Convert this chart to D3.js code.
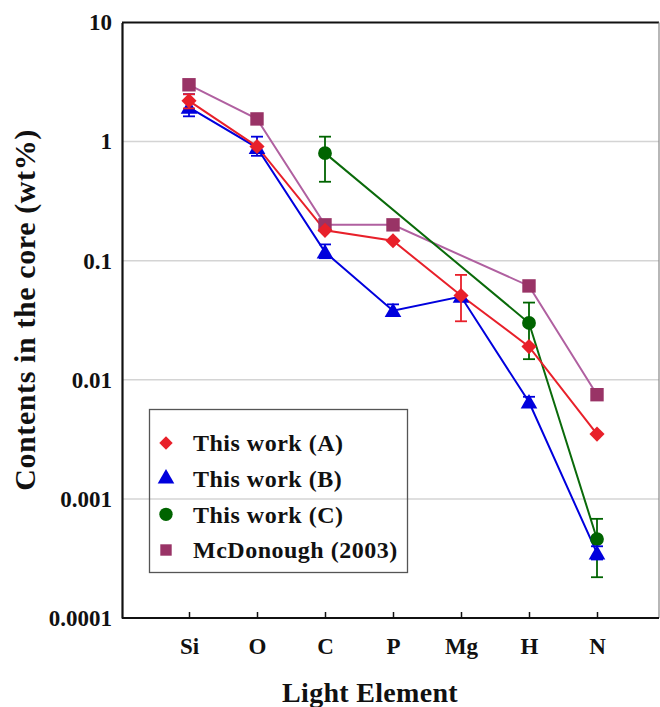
<!DOCTYPE html>
<html>
<head>
<meta charset="utf-8">
<script src="https://cdn.jsdelivr.net/npm/d3@7"></script>
<style>
  body { margin: 0; background: #fff; }
  text { font-family: "Liberation Serif", "Times New Roman", serif; font-weight: bold; fill: #111; }
</style>
</head>
<body>
<script>
// chart size
var w = 660;
var h = 707;
var plotLeft = 122, plotRight = 659, plotTop = 22.5, plotBottom = 618;

// categories and tick labels
var elements = ["Si", "O", "C", "P", "Mg", "H", "N"];
var yTicks = [0.0001, 0.001, 0.01, 0.1, 1, 10];
var yTickLabels = ["0.0001", "0.001", "0.01", "0.1", "1", "10"];

// series values (wt%), null = no point
var workA = [2.2, 0.91, 0.18, 0.147, 0.051, 0.019, 0.0035];
var workB = [1.94, 0.89, 0.118, 0.038, 0.05, 0.0065, 0.00035];
var workC = [null, null, 0.80, null, null, 0.030, 0.00046];
var mcdonough = [3.0, 1.55, 0.2, 0.2, null, 0.0614, 0.0075];

// error bar limits [low, high], null = none
var workAErr = [[1.9, 2.5], null, null, null, [0.031, 0.076], null, null];
var workBErr = [[1.63, 2.5], [0.76, 1.1], [0.105, 0.137], [0.035, 0.043], null, [0.006, 0.0072], [0.00031, 0.0004]];
var workCErr = [null, null, [0.46, 1.1], null, null, [0.0149, 0.0445], [0.00022, 0.00068]];

var seriesNames = ["This work (A)", "This work (B)", "This work (C)", "McDonough (2003)"];

// diamond = square turned 45 degrees
var series = [
  {name: seriesNames[3], values: mcdonough, err: null, color: "#993366", line: "#b060a0", symbol: d3.symbolSquare, size: 180, rot: 0},
  {name: seriesNames[2], values: workC, err: workCErr, color: "#006400", line: "#0a6a0a", symbol: d3.symbolCircle, size: 150, rot: 0},
  {name: seriesNames[1], values: workB, err: workBErr, color: "#0000dd", line: "#0000dd", symbol: d3.symbolTriangle, size: 120, rot: 0},
  {name: seriesNames[0], values: workA, err: workAErr, color: "#e8202a", line: "#e8202a", symbol: d3.symbolSquare, size: 115, rot: 45}
];

var xScale = d3.scalePoint().domain(elements).range([189, 597]);
var yScale = d3.scaleLog().domain([0.0001, 10]).range([plotBottom, plotTop]);

var svg = d3.select("body").append("svg")
  .attr("width", w)
  .attr("height", h);

// gridlines
svg.append("g").selectAll("line")
  .data(yTicks.slice(1, -1))
  .enter().append("line")
  .attr("x1", plotLeft).attr("x2", plotRight)
  .attr("y1", function(d) { return yScale(d); })
  .attr("y2", function(d) { return yScale(d); })
  .attr("stroke", "#d4d4d4")
  .attr("stroke-width", 1.5);

// frame
svg.append("line").attr("x1", plotLeft).attr("x2", plotRight).attr("y1", plotTop).attr("y2", plotTop)
  .attr("stroke", "#111").attr("stroke-width", 2.2);
svg.append("line").attr("x1", plotRight).attr("x2", plotRight).attr("y1", plotTop).attr("y2", plotBottom)
  .attr("stroke", "#888").attr("stroke-width", 1.2);

// y axis
var yAxis = d3.axisLeft(yScale)
  .tickValues(yTicks)
  .tickFormat(function(d, i) { return yTickLabels[i]; })
  .tickSize(0)
  .tickPadding(10);
var gy = svg.append("g").attr("transform", "translate(" + plotLeft + ",0)").call(yAxis);
gy.select(".domain").attr("stroke", "#111").attr("stroke-width", 2.2);
gy.selectAll("text").style("font-size", "23px").attr("font-family", null);

// x axis, ticks point inward
var xAxis = d3.axisBottom(xScale).tickSize(-6).tickPadding(20);
var gx = svg.append("g").attr("transform", "translate(0," + plotBottom + ")").call(xAxis);
gx.select(".domain").attr("d", "M" + plotLeft + ",0H" + plotRight).attr("stroke", "#111").attr("stroke-width", 2.2);
gx.selectAll(".tick line").attr("stroke", "#111").attr("stroke-width", 1.5);
gx.selectAll("text").style("font-size", "23px").attr("font-family", null);

// axis titles
svg.append("text")
  .attr("x", 370).attr("y", 702)
  .attr("text-anchor", "middle")
  .style("font-size", "28px")
  .style("letter-spacing", "0.3px")
  .text("Light Element");

svg.append("text")
  .attr("transform", "translate(35,310) rotate(-90)")
  .attr("text-anchor", "middle")
  .style("font-size", "30px")
  .style("letter-spacing", "0.6px")
  .text("Contents in the core (wt%)");

// lines
var line = d3.line()
  .x(function(d) { return xScale(d.e); })
  .y(function(d) { return yScale(d.v); });

series.forEach(function(s) {
  var pts = s.values.map(function(v, i) { return {e: elements[i], v: v}; })
    .filter(function(d) { return d.v != null; });
  svg.append("path")
    .datum(pts)
    .attr("fill", "none")
    .attr("stroke", s.line)
    .attr("stroke-width", 2)
    .attr("d", line);
});

// error bars and markers
series.forEach(function(s) {
  var g = svg.append("g");
  if (s.err) {
    var errs = s.err.map(function(r, i) { return {e: elements[i], r: r}; })
      .filter(function(d) { return d.r != null; });
    var eb = g.selectAll("g.err").data(errs).enter().append("g")
      .attr("stroke", s.color).attr("stroke-width", 1.8);
    eb.append("line")
      .attr("x1", function(d) { return xScale(d.e); })
      .attr("x2", function(d) { return xScale(d.e); })
      .attr("y1", function(d) { return yScale(d.r[0]); })
      .attr("y2", function(d) { return yScale(d.r[1]); });
    eb.append("line")
      .attr("x1", function(d) { return xScale(d.e) - 6; })
      .attr("x2", function(d) { return xScale(d.e) + 6; })
      .attr("y1", function(d) { return yScale(d.r[0]); })
      .attr("y2", function(d) { return yScale(d.r[0]); });
    eb.append("line")
      .attr("x1", function(d) { return xScale(d.e) - 6; })
      .attr("x2", function(d) { return xScale(d.e) + 6; })
      .attr("y1", function(d) { return yScale(d.r[1]); })
      .attr("y2", function(d) { return yScale(d.r[1]); });
  }
  var pts = s.values.map(function(v, i) { return {e: elements[i], v: v}; })
    .filter(function(d) { return d.v != null; });
  g.selectAll("path.mark").data(pts).enter().append("path")
    .attr("class", "mark")
    .attr("d", d3.symbol().type(s.symbol).size(s.size))
    .attr("transform", function(d) {
      var dy = s.symbol === d3.symbolTriangle ? 1.5 : 0;
      return "translate(" + xScale(d.e) + "," + (yScale(d.v) + dy) + ") rotate(" + s.rot + ")";
    })
    .attr("fill", s.color);
});

// legend (no fill so gridline shows through)
var legendRows = [
  {name: seriesNames[0], color: "#e8202a", symbol: d3.symbolSquare, size: 90, rot: 45},
  {name: seriesNames[1], color: "#0000dd", symbol: d3.symbolTriangle, size: 120, rot: 0},
  {name: seriesNames[2], color: "#006400", symbol: d3.symbolCircle, size: 140, rot: 0},
  {name: seriesNames[3], color: "#993366", symbol: d3.symbolSquare, size: 130, rot: 0}
];
var legendY = d3.scalePoint().domain(d3.range(legendRows.length)).range([443, 550]);

svg.append("rect")
  .attr("x", 149.5).attr("y", 409.5)
  .attr("width", 258).attr("height", 163)
  .attr("fill", "none")
  .attr("stroke", "#555")
  .attr("stroke-width", 1.3);

var lg = svg.append("g").selectAll("g")
  .data(legendRows)
  .enter().append("g")
  .attr("transform", function(d, i) { return "translate(166," + legendY(i) + ")"; });
lg.append("path")
  .attr("d", function(d) { return d3.symbol().type(d.symbol).size(d.size)(); })
  .attr("transform", function(d) { return "rotate(" + d.rot + ")"; })
  .attr("fill", function(d) { return d.color; });
lg.append("text")
  .attr("x", 27)
  .attr("dy", "0.35em")
  .style("font-size", "24px")
  .style("letter-spacing", "0.5px")
  .text(function(d) { return d.name; });
</script>
</body>
</html>
